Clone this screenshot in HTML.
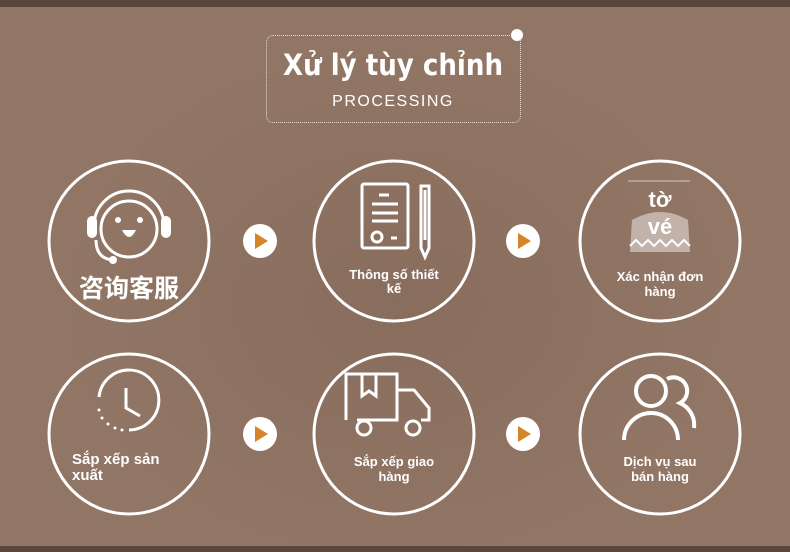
<!DOCTYPE html>
<html><head><meta charset="utf-8"><style>
html,body{margin:0;padding:0}
body{width:790px;height:552px;position:relative;overflow:hidden;background:#917565;font-family:"Liberation Sans","Noto Sans CJK SC",sans-serif;color:#fff}
.bg{position:absolute;inset:0;background:radial-gradient(ellipse at 50% 55%,rgba(120,95,80,.35),rgba(0,0,0,0) 60%)}
.band{position:absolute;left:0;width:790px;height:7px;background:#5a463a}
.t{position:absolute;left:0;width:100%;text-align:center;font-weight:bold}
.lbl{position:absolute;font-weight:bold;font-size:14px;line-height:15px;text-align:center}
</style></head><body>
<div class="bg"></div>
<div class="band" style="top:0"></div>
<div class="band" style="top:546px;height:6px"></div>
<div style="position:absolute;left:266px;top:35px;width:253px;height:86px;border:1px dotted #e9ddd4;border-radius:7px"></div>
<div style="position:absolute;left:511px;top:29px;width:12px;height:12px;border-radius:50%;background:#fff"></div>
<div class="t" style="top:48px;left:268px;width:250px;font-size:29px;font-family:'DejaVu Sans Condensed','Liberation Sans',sans-serif">Xử lý tùy chỉnh</div>
<div class="t" style="top:93px;left:268px;width:250px;font-size:16px;font-weight:normal;letter-spacing:1.5px">PROCESSING</div>

<svg width="790" height="552" style="position:absolute;left:0;top:0" fill="none" stroke="#fff">
 <g stroke-width="3">
  <circle cx="129" cy="241" r="80"/><circle cx="394" cy="241" r="80"/><circle cx="660" cy="241" r="80"/>
  <circle cx="129" cy="434" r="80"/><circle cx="394" cy="434" r="80"/><circle cx="660" cy="434" r="80"/>
 </g>
 <g>
  <circle cx="260" cy="241" r="17" fill="#fff" stroke="none"/><path d="M255 233 L268 241 L255 249Z" fill="#d58428" stroke="none"/>
  <circle cx="523" cy="241" r="17" fill="#fff" stroke="none"/><path d="M518 233 L531 241 L518 249Z" fill="#d58428" stroke="none"/>
  <circle cx="260" cy="434" r="17" fill="#fff" stroke="none"/><path d="M255 426 L268 434 L255 442Z" fill="#d58428" stroke="none"/>
  <circle cx="523" cy="434" r="17" fill="#fff" stroke="none"/><path d="M518 426 L531 434 L518 442Z" fill="#d58428" stroke="none"/>
 </g>
 <!-- headset face -->
 <g stroke-width="3">
  <circle cx="129" cy="229" r="28"/>
  <path d="M94 226 A35 35 0 0 1 164 226"/>
  <path d="M96 240 Q96 258 112 260"/>
 </g>
 <rect x="87" y="216" width="10" height="22" rx="5" fill="#fff" stroke="none"/>
 <rect x="161" y="216" width="10" height="22" rx="5" fill="#fff" stroke="none"/>
 <circle cx="113" cy="260" r="4" fill="#fff" stroke="none"/>
 <circle cx="118" cy="220" r="3" fill="#fff" stroke="none"/><circle cx="140" cy="220" r="3" fill="#fff" stroke="none"/>
 <path d="M122 230 Q129 244 136 230Z" fill="#fff" stroke="none"/>
 <!-- document + pen -->
 <g stroke-width="3">
  <rect x="362" y="184" width="46" height="64" rx="2"/>
  <path d="M379 195h10M372 204h26M372 213h26M372 221h26M391 238h6"/>
  <circle cx="377" cy="237" r="5"/>
  <path d="M421 186 h8 v62 l-4 9 l-4 -9Z"/><path d="M425 190 v50"/>
 </g>
 <!-- tờ vé -->
 <path d="M628 181h62" stroke="#d8c6ba" stroke-width="1"/>
 <path d="M632 220 Q660 204 688 220 L690 252 L630 252Z" fill="rgba(255,255,255,.45)" stroke="none"/>
 <path d="M630 246 l6 -6 l6 6 l6 -6 l6 6 l6 -6 l6 6 l6 -6 l6 6 l6 -6 l6 6" stroke="#fff" stroke-width="2"/>
 <!-- clock -->
 <g stroke-width="3">
  <path d="M99 397 A30 30 0 1 1 129 430"/>
  <path d="M126 388 v20 l14 8"/>
 </g>
 <g fill="#fff" stroke="none">
  <circle cx="99" cy="410" r="1.5"/><circle cx="102" cy="418" r="1.5"/><circle cx="108" cy="424" r="1.5"/><circle cx="115" cy="428" r="1.5"/><circle cx="122" cy="430" r="1.5"/>
 </g>
 <!-- truck -->
 <g stroke-width="3">
  <path d="M346 420 V374 h51 v46 h-40M397 390 h17 l15 18 v12 h-8M378 420h-6"/>
  <path d="M362 374 v22 l7 -5 l7 5 v-22"/>
  <circle cx="364" cy="428" r="7"/><circle cx="413" cy="428" r="7"/>
 </g>
 <!-- people -->
 <g stroke-width="4">
  <circle cx="651" cy="391" r="15"/>
  <path d="M624 440 A27 27 0 0 1 678 440"/>
  <path d="M667 379 A12 12 0 0 1 680 403 A24 24 0 0 1 694 428"/>
 </g>
</svg>
<div class="lbl" style="left:49px;width:160px;top:273px;font-size:25px;line-height:28px;font-family:'Noto Sans CJK SC',sans-serif;font-weight:bold">咨询客服</div>
<div class="lbl" style="left:334px;width:120px;top:268px;font-size:13px;line-height:14px">Thông số thiết<br>kế</div>
<div class="t" style="left:610px;width:100px;top:186px;font-size:22px;line-height:27px">tờ<br>vé</div>
<div class="lbl" style="left:600px;width:120px;top:269px;font-size:13px;line-height:15px">Xác nhận đơn<br>hàng</div>
<div class="lbl" style="left:72px;width:120px;top:452px;text-align:left;font-size:15px;line-height:16px">Sắp xếp sản<br>xuất</div>
<div class="lbl" style="left:334px;width:120px;top:454px;font-size:13px;line-height:15px">Sắp xếp giao<br>hàng</div>
<div class="lbl" style="left:600px;width:120px;top:454px;font-size:13px;line-height:15px">Dịch vụ sau<br>bán hàng</div>
</body></html>
